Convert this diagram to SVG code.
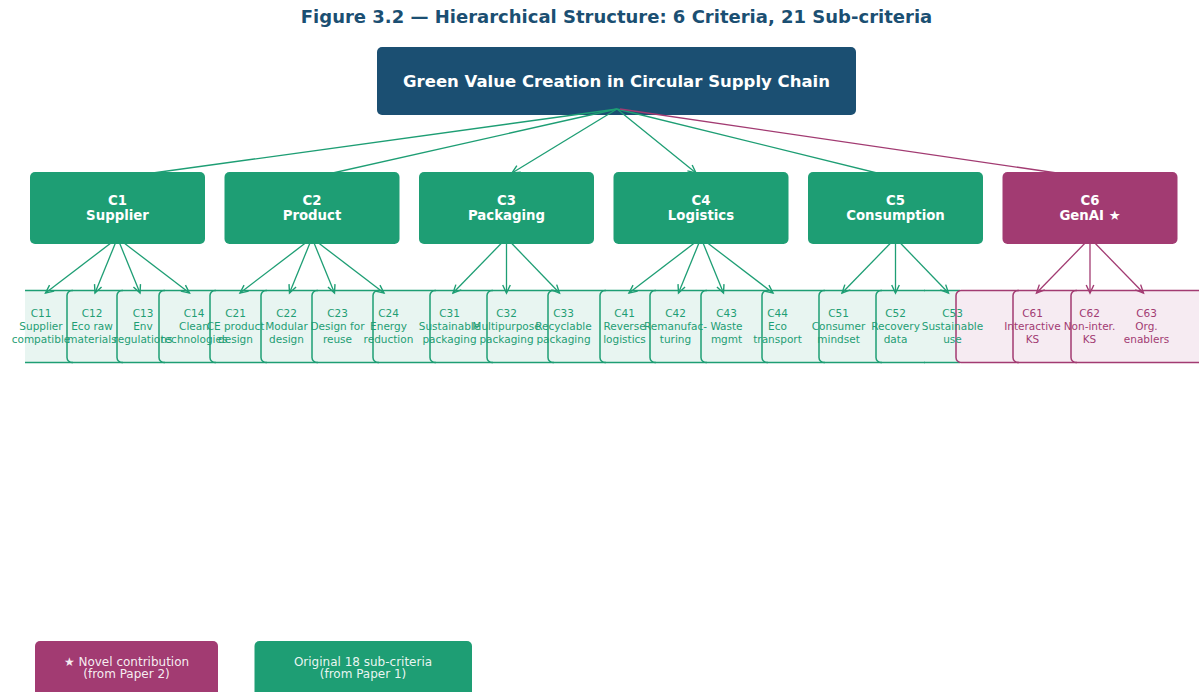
<svg xmlns="http://www.w3.org/2000/svg" width="1199" height="692" viewBox="0 0 1199 692">
<defs>
<style>
.title{font-family:"DejaVu Sans",sans-serif;font-weight:bold;font-size:18px;fill:#1B4F72;text-anchor:middle}
.root-t{font-family:"DejaVu Sans",sans-serif;font-weight:bold;font-size:16.5px;fill:#ffffff;text-anchor:middle}
.crit{fill:#1E9E74}
.crit6{fill:#A23B72}
.crit-t{font-family:"DejaVu Sans",sans-serif;font-weight:bold;font-size:13.3px;fill:#ffffff;text-anchor:middle}
.sub-o{fill:none;stroke:#1E9E74;stroke-width:1.5}
.sub6-o{fill:none;stroke:#A23B72;stroke-width:1.5}
.sub-t{font-family:"DejaVu Sans",sans-serif;font-size:10.5px;fill:#1E9E74;text-anchor:middle}
.sub6-t{font-family:"DejaVu Sans",sans-serif;font-size:10.5px;fill:#A23B72;text-anchor:middle}
.cg{fill:none;stroke:#1E9E74;stroke-width:1.3}
.cp{fill:none;stroke:#A23B72;stroke-width:1.3}
.leg-t{font-family:"DejaVu Sans",sans-serif;font-size:12px;fill:#ffffff;fill-opacity:0.92;text-anchor:middle}
</style>
<marker id="ah-g" viewBox="-10 -6 12 12" refX="0" refY="0" markerWidth="12" markerHeight="12" markerUnits="userSpaceOnUse" orient="auto"><path d="M-8,-3.8 L0,0 L-8,3.8" fill="none" stroke="#1E9E74" stroke-width="1.4"/></marker>
<marker id="ah-p" viewBox="-10 -6 12 12" refX="0" refY="0" markerWidth="12" markerHeight="12" markerUnits="userSpaceOnUse" orient="auto"><path d="M-8,-3.8 L0,0 L-8,3.8" fill="none" stroke="#A23B72" stroke-width="1.4"/></marker>
<clipPath id="band"><rect x="25" y="280" width="1174" height="100"/></clipPath>
</defs>
<rect width="1199" height="692" fill="#ffffff"/>
<text class="title" x="616.5" y="23">Figure 3.2 — Hierarchical Structure: 6 Criteria, 21 Sub-criteria</text>

<g id="sub-band" clip-path="url(#band)">
<rect x="20" y="290.5" width="940" height="72" fill="#E8F5F1"/>
<rect x="956" y="290.5" width="260" height="72" rx="5" fill="#F6EBF2"/>
</g>

<g id="root">
<rect x="377" y="47" width="479" height="68" rx="5" fill="#1B4F72"/>
<text class="root-t" x="616.5" y="86.5">Green Value Creation in Circular Supply Chain</text>
</g>

<g id="connectors">
<path class="cg" marker-end="url(#ah-g)" d="M617,109 L102,180"/>
<path class="cg" marker-end="url(#ah-g)" d="M617,109 L301.5,180"/>
<path class="cg" marker-end="url(#ah-g)" d="M617,109 L512,173"/>
<path class="cg" marker-end="url(#ah-g)" d="M617,109 L696,173"/>
<path class="cg" marker-end="url(#ah-g)" d="M617,109 L905.5,180"/>
<path class="cp" marker-end="url(#ah-p)" d="M620,109 L1104.5,180"/>
<path class="cg" marker-end="url(#ah-g)" d="M117.5,238 L45.5,293"/>
<path class="cg" marker-end="url(#ah-g)" d="M117.5,238 L95,293"/>
<path class="cg" marker-end="url(#ah-g)" d="M117.5,238 L140,293"/>
<path class="cg" marker-end="url(#ah-g)" d="M117.5,238 L189.5,293"/>
<path class="cg" marker-end="url(#ah-g)" d="M312,238 L240,293"/>
<path class="cg" marker-end="url(#ah-g)" d="M312,238 L289.5,293"/>
<path class="cg" marker-end="url(#ah-g)" d="M312,238 L334.5,293"/>
<path class="cg" marker-end="url(#ah-g)" d="M312,238 L384,293"/>
<path class="cg" marker-end="url(#ah-g)" d="M506.5,238 L453,293"/>
<path class="cg" marker-end="url(#ah-g)" d="M506.5,238 L506.5,293"/>
<path class="cg" marker-end="url(#ah-g)" d="M506.5,238 L559.5,293"/>
<path class="cg" marker-end="url(#ah-g)" d="M701,238 L629,293"/>
<path class="cg" marker-end="url(#ah-g)" d="M701,238 L678.5,293"/>
<path class="cg" marker-end="url(#ah-g)" d="M701,238 L723.5,293"/>
<path class="cg" marker-end="url(#ah-g)" d="M701,238 L773,293"/>
<path class="cg" marker-end="url(#ah-g)" d="M895.5,238 L842,293"/>
<path class="cg" marker-end="url(#ah-g)" d="M895.5,238 L895.5,293"/>
<path class="cg" marker-end="url(#ah-g)" d="M895.5,238 L948.5,293"/>
<path class="cp" marker-end="url(#ah-p)" d="M1090,238 L1036.5,293"/>
<path class="cp" marker-end="url(#ah-p)" d="M1090,238 L1090,293"/>
<path class="cp" marker-end="url(#ah-p)" d="M1090,238 L1143.5,293"/>
</g>

<g id="C1"><rect class="crit" x="30" y="172" width="175" height="72" rx="5"/><text class="crit-t" x="117.5" y="204.5">C1</text><text class="crit-t" x="117.5" y="220">Supplier</text></g>
<g id="C2"><rect class="crit" x="224.5" y="172" width="175" height="72" rx="5"/><text class="crit-t" x="312" y="204.5">C2</text><text class="crit-t" x="312" y="220">Product</text></g>
<g id="C3"><rect class="crit" x="419" y="172" width="175" height="72" rx="5"/><text class="crit-t" x="506.5" y="204.5">C3</text><text class="crit-t" x="506.5" y="220">Packaging</text></g>
<g id="C4"><rect class="crit" x="613.5" y="172" width="175" height="72" rx="5"/><text class="crit-t" x="701" y="204.5">C4</text><text class="crit-t" x="701" y="220">Logistics</text></g>
<g id="C5"><rect class="crit" x="808" y="172" width="175" height="72" rx="5"/><text class="crit-t" x="895.5" y="204.5">C5</text><text class="crit-t" x="895.5" y="220">Consumption</text></g>
<g id="C6"><rect class="crit6" x="1002.5" y="172" width="175" height="72" rx="5"/><text class="crit-t" x="1090" y="204.5">C6</text><text class="crit-t" x="1090" y="220">GenAI ★</text></g>

<g id="sub-outlines" clip-path="url(#band)">
<path id="C11-box" class="sub-o" d="M73,290.5 H25 M25,362.5 H73"/>
<path id="C12-box" class="sub-o" d="M123,290.5 H72 A5,5 0 0 0 67,295.5 V357.5 A5,5 0 0 0 72,362.5 H123"/>
<path id="C13-box" class="sub-o" d="M165,290.5 H122 A5,5 0 0 0 117,295.5 V357.5 A5,5 0 0 0 122,362.5 H165"/>
<path id="C14-box" class="sub-o" d="M216,290.5 H164 A5,5 0 0 0 159,295.5 V357.5 A5,5 0 0 0 164,362.5 H216"/>
<path id="C21-box" class="sub-o" d="M267,290.5 H215 A5,5 0 0 0 210,295.5 V357.5 A5,5 0 0 0 215,362.5 H267"/>
<path id="C22-box" class="sub-o" d="M318,290.5 H266 A5,5 0 0 0 261,295.5 V357.5 A5,5 0 0 0 266,362.5 H318"/>
<path id="C23-box" class="sub-o" d="M379,290.5 H317 A5,5 0 0 0 312,295.5 V357.5 A5,5 0 0 0 317,362.5 H379"/>
<path id="C24-box" class="sub-o" d="M436,290.5 H378 A5,5 0 0 0 373,295.5 V357.5 A5,5 0 0 0 378,362.5 H436"/>
<path id="C31-box" class="sub-o" d="M493,290.5 H435 A5,5 0 0 0 430,295.5 V357.5 A5,5 0 0 0 435,362.5 H493"/>
<path id="C32-box" class="sub-o" d="M554,290.5 H492 A5,5 0 0 0 487,295.5 V357.5 A5,5 0 0 0 492,362.5 H554"/>
<path id="C33-box" class="sub-o" d="M606,290.5 H553 A5,5 0 0 0 548,295.5 V357.5 A5,5 0 0 0 553,362.5 H606"/>
<path id="C41-box" class="sub-o" d="M656,290.5 H605 A5,5 0 0 0 600,295.5 V357.5 A5,5 0 0 0 605,362.5 H656"/>
<path id="C42-box" class="sub-o" d="M707,290.5 H655 A5,5 0 0 0 650,295.5 V357.5 A5,5 0 0 0 655,362.5 H707"/>
<path id="C43-box" class="sub-o" d="M768,290.5 H706 A5,5 0 0 0 701,295.5 V357.5 A5,5 0 0 0 706,362.5 H768"/>
<path id="C44-box" class="sub-o" d="M825,290.5 H767 A5,5 0 0 0 762,295.5 V357.5 A5,5 0 0 0 767,362.5 H825"/>
<path id="C51-box" class="sub-o" d="M882,290.5 H824 A5,5 0 0 0 819,295.5 V357.5 A5,5 0 0 0 824,362.5 H882"/>
<path id="C52-box" class="sub-o" d="M925,290.5 H881 A5,5 0 0 0 876,295.5 V357.5 A5,5 0 0 0 881,362.5 H925"/>
<path id="C53-box" class="sub-o" d="M960,290.5 H924 M924,362.5 H960"/>
<path id="C61-box" class="sub6-o" d="M1019,290.5 H961 A5,5 0 0 0 956,295.5 V357.5 A5,5 0 0 0 961,362.5 H1019"/>
<path id="C62-box" class="sub6-o" d="M1077,290.5 H1018 A5,5 0 0 0 1013,295.5 V357.5 A5,5 0 0 0 1018,362.5 H1077"/>
<path id="C63-box" class="sub6-o" d="M1210,290.5 H1076 A5,5 0 0 0 1071,295.5 V357.5 A5,5 0 0 0 1076,362.5 H1210"/>
</g>

<g id="sub-labels">
<g id="C11"><text class="sub-t" x="41" y="317">C11</text><text class="sub-t" x="41" y="330">Supplier</text><text class="sub-t" x="41" y="343">compatible</text></g>
<g id="C12"><text class="sub-t" x="92" y="317">C12</text><text class="sub-t" x="92" y="330">Eco raw</text><text class="sub-t" x="92" y="343">materials</text></g>
<g id="C13"><text class="sub-t" x="143" y="317">C13</text><text class="sub-t" x="143" y="330">Env</text><text class="sub-t" x="143" y="343">regulations</text></g>
<g id="C14"><text class="sub-t" x="194" y="317">C14</text><text class="sub-t" x="194" y="330">Clean</text><text class="sub-t" x="194" y="343">technologies</text></g>
<g id="C21"><text class="sub-t" x="235.5" y="317">C21</text><text class="sub-t" x="235.5" y="330">CE product</text><text class="sub-t" x="235.5" y="343">design</text></g>
<g id="C22"><text class="sub-t" x="286.5" y="317">C22</text><text class="sub-t" x="286.5" y="330">Modular</text><text class="sub-t" x="286.5" y="343">design</text></g>
<g id="C23"><text class="sub-t" x="337.5" y="317">C23</text><text class="sub-t" x="337.5" y="330">Design for</text><text class="sub-t" x="337.5" y="343">reuse</text></g>
<g id="C24"><text class="sub-t" x="388.5" y="317">C24</text><text class="sub-t" x="388.5" y="330">Energy</text><text class="sub-t" x="388.5" y="343">reduction</text></g>
<g id="C31"><text class="sub-t" x="449.5" y="317">C31</text><text class="sub-t" x="449.5" y="330">Sustainable</text><text class="sub-t" x="449.5" y="343">packaging</text></g>
<g id="C32"><text class="sub-t" x="506.5" y="317">C32</text><text class="sub-t" x="506.5" y="330">Multipurpose</text><text class="sub-t" x="506.5" y="343">packaging</text></g>
<g id="C33"><text class="sub-t" x="563.5" y="317">C33</text><text class="sub-t" x="563.5" y="330">Recyclable</text><text class="sub-t" x="563.5" y="343">packaging</text></g>
<g id="C41"><text class="sub-t" x="624.5" y="317">C41</text><text class="sub-t" x="624.5" y="330">Reverse</text><text class="sub-t" x="624.5" y="343">logistics</text></g>
<g id="C42"><text class="sub-t" x="675.5" y="317">C42</text><text class="sub-t" x="675.5" y="330">Remanufac-</text><text class="sub-t" x="675.5" y="343">turing</text></g>
<g id="C43"><text class="sub-t" x="726.5" y="317">C43</text><text class="sub-t" x="726.5" y="330">Waste</text><text class="sub-t" x="726.5" y="343">mgmt</text></g>
<g id="C44"><text class="sub-t" x="777.5" y="317">C44</text><text class="sub-t" x="777.5" y="330">Eco</text><text class="sub-t" x="777.5" y="343">transport</text></g>
<g id="C51"><text class="sub-t" x="838.5" y="317">C51</text><text class="sub-t" x="838.5" y="330">Consumer</text><text class="sub-t" x="838.5" y="343">mindset</text></g>
<g id="C52"><text class="sub-t" x="895.5" y="317">C52</text><text class="sub-t" x="895.5" y="330">Recovery</text><text class="sub-t" x="895.5" y="343">data</text></g>
<g id="C53"><text class="sub-t" x="952.5" y="317">C53</text><text class="sub-t" x="952.5" y="330">Sustainable</text><text class="sub-t" x="952.5" y="343">use</text></g>
<g id="C61"><text class="sub6-t" x="1032.5" y="317">C61</text><text class="sub6-t" x="1032.5" y="330">Interactive</text><text class="sub6-t" x="1032.5" y="343">KS</text></g>
<g id="C62"><text class="sub6-t" x="1089.5" y="317">C62</text><text class="sub6-t" x="1089.5" y="330">Non-inter.</text><text class="sub6-t" x="1089.5" y="343">KS</text></g>
<g id="C63"><text class="sub6-t" x="1146.5" y="317">C63</text><text class="sub6-t" x="1146.5" y="330">Org.</text><text class="sub6-t" x="1146.5" y="343">enablers</text></g>
</g>

<g id="legend-novel">
<rect x="35" y="641" width="183" height="62" rx="5" fill="#A23B72"/>
<text class="leg-t" x="126.5" y="665.5">★ Novel contribution</text>
<text class="leg-t" x="126.5" y="678">(from Paper 2)</text>
</g>
<g id="legend-original">
<rect x="254.5" y="641" width="217.5" height="62" rx="5" fill="#1E9E74"/>
<text class="leg-t" x="363" y="665.5">Original 18 sub-criteria</text>
<text class="leg-t" x="363" y="678">(from Paper 1)</text>
</g>
</svg>
